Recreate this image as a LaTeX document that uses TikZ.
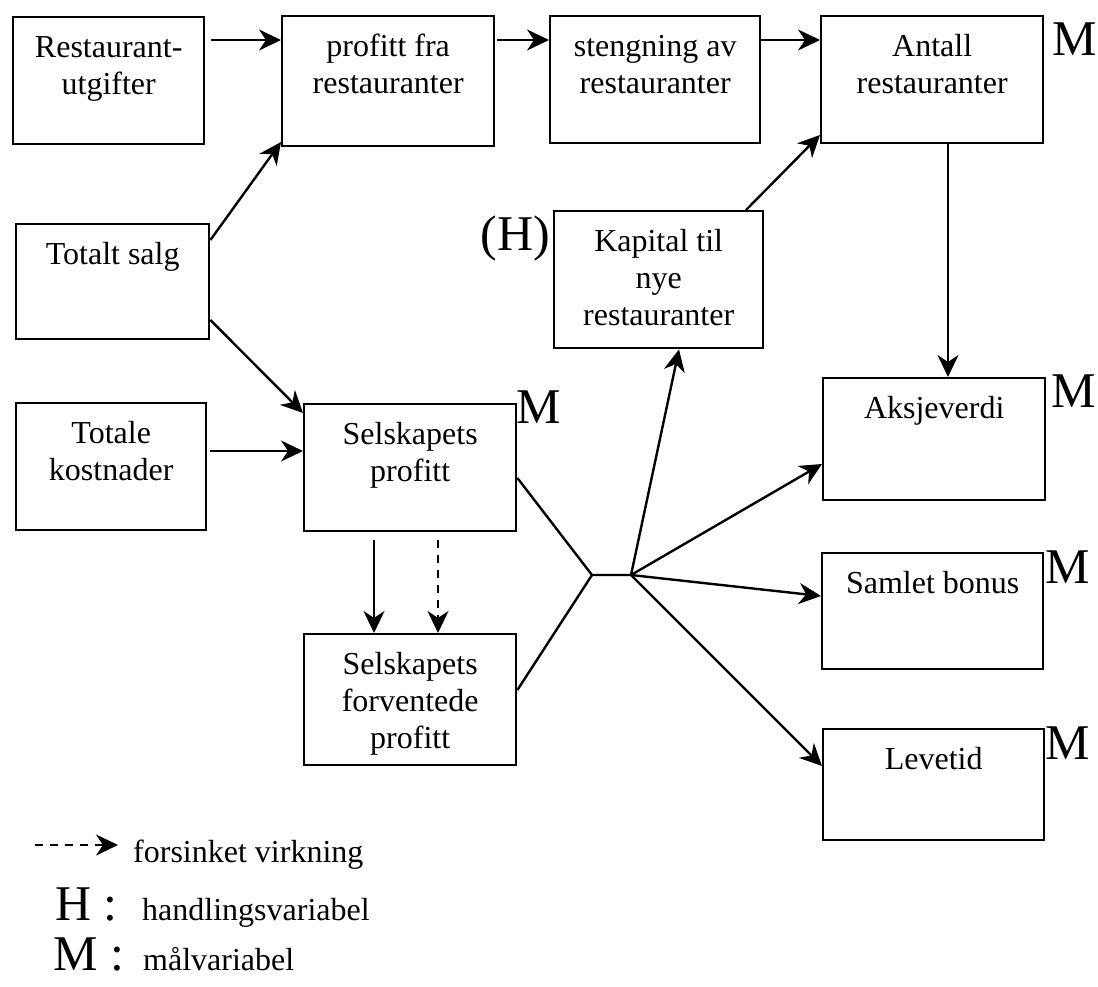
\documentclass[tikz,border=0pt]{standalone}
\usepackage{fontspec}
\setmainfont{Liberation Serif}
\usetikzlibrary{arrows.meta}

% a framed variable box: name, left x, top y, width, height, text (set at the top)
\newcommand\flowbox[6]{%
  \node[vbox] (#1) at (#2,#3)
    {\parbox[c][#5pt][t]{#4pt}{\centering\vspace*{14.1pt}\strut#6}};}

\begin{document}
\begin{tikzpicture}[x=1pt,y=-1pt,
  vbox/.style={draw, line width=2.4pt, inner sep=0pt, anchor=north west,
               font=\fontsize{32}{37}\selectfont},
  tag/.style={inner sep=0pt, anchor=base west, font=\fontsize{50}{60}\selectfont},
  txt/.style={inner sep=0pt, anchor=base west, font=\fontsize{32}{37}\selectfont},
  link/.style={line width=2.4pt, line join=round},
  arr/.style={line width=2.4pt, -{Stealth[length=22pt,width=21pt,inset=7pt]}},
  delay/.style={arr, dash pattern=on 8pt off 7pt}]

\useasboundingbox (0,0) rectangle (1098,986);

% variables
\flowbox{rest}{12}{16}{191}{127}{Restaurant-\\utgifter}
\flowbox{prof}{281}{15}{212}{130}{profitt fra\\restauranter}
\flowbox{steng}{549}{15}{210}{127}{stengning av\\restauranter}
\flowbox{antall}{820}{15}{222}{127}{Antall\\restauranter}
\flowbox{salg}{15}{223}{193}{115}{Totalt salg}
\flowbox{kost}{15}{402}{190}{127}{Totale\\kostnader}
\flowbox{selsk}{303}{403}{212}{127}{Selskapets\\profitt}
\flowbox{forv}{303}{633}{212}{131}{Selskapets\\forventede\\profitt}
\flowbox{kap}{553}{210}{209}{137}{Kapital til\\nye\\restauranter}
\flowbox{aksje}{822}{377}{222}{122}{Aksjeverdi}
\flowbox{samlet}{821}{552}{221}{116}{Samlet bonus}
\flowbox{leve}{822}{728}{221}{111}{Levetid}

% markers for goal and action variables
\node[tag] (mAntall) at (1052,55) {M};
\node[tag] (mSelsk) at (516,423) {M};
\node[tag] (mAksje) at (1051,407) {M};
\node[tag] (mSamlet) at (1045,583) {M};
\node[tag] (mLeve) at (1045,759) {M};
\node[tag, anchor=base east] (hKap) at (550,250) {(H)};

% top row
\draw[arr, shorten <=6pt] (rest.east |- 0,40) -- (prof.west |- 0,40);
\draw[arr, shorten <=2pt] (prof.east |- 0,40) -- (steng.west |- 0,40);
\draw[arr] (steng.east |- 0,40) -- (antall.west |- 0,40);

% sales and costs
\draw[arr] (salg.east |- 0,240) -- (prof.west |- 0,142);
\draw[arr] (salg.east |- 0,320) -- (selsk.west |- 0,413);
\draw[arr, shorten <=3pt] (kost.east |- 0,451) -- (selsk.west |- 0,451);

% new capital and number of restaurants
\draw[arr] (kap.north -| 746,0) -- (antall.west |- 0,135);
\draw[arr] (antall.south -| 948,0) -- (aksje.north -| 948,0);

% company profit to expected profit
\draw[arr, shorten <=8pt] (selsk.south -| 374,0) -- (forv.north -| 374,0);
\draw[delay, shorten <=8pt] (selsk.south -| 438,0) -- (forv.north -| 438,0);

% junction
\coordinate (hubL) at (592,575);
\coordinate (hubR) at (631,575);
\draw[link] (selsk.east |- 0,478) -- (hubL) -- (hubR);
\draw[link] (forv.east |- 0,690) -- (hubL);
\draw[arr] (hubR) -- (kap.south -| 679,0);
\draw[arr] (hubR) -- (aksje.west |- 0,464);
\draw[arr] (hubR) -- (samlet.west |- 0,596);
\draw[arr] (hubR) -- (leve.west |- 0,766);

% legend
\coordinate (dA) at (35,845);
\coordinate (dB) at (118,845);
\draw[delay] (dA) -- (dB);
\node[txt] (lgD) at (133,862) {forsinket virkning};
\node[tag] (lgH) at (55,920) {H :};
\node[txt] (lgHt) at (142,920) {handlingsvariabel};
\node[tag] (lgM) at (53,970) {M :};
\node[txt] (lgMt) at (143,970) {målvariabel};

\end{tikzpicture}
\end{document}
